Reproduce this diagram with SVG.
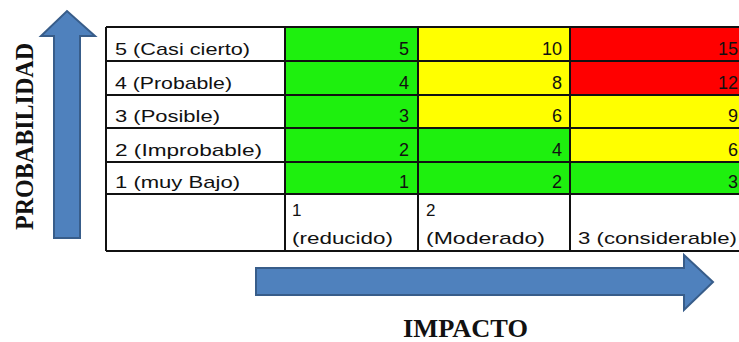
<svg xmlns="http://www.w3.org/2000/svg" width="739" height="342" viewBox="0 0 739 342">
<style>
.t{font-family:"Liberation Sans","Arial",sans-serif;font-size:17px;fill:#111}
.n{font-family:"Liberation Sans","Arial",sans-serif;font-size:18px;fill:#111;text-anchor:end}
.g{fill:#1ef00e}
.y{fill:#ffff00}
.r{fill:#ff0000}
.grid{stroke:#111;stroke-width:2;fill:none}
.arrow{fill:#4f81bd;stroke:#385d8a;stroke-width:2}
.big{font-family:"Liberation Serif","Times New Roman",serif;font-weight:bold;font-size:25px;fill:#111}
</style>
<rect width="739" height="342" fill="#fff"/>
<g id="arrow-prob">
<polygon class="arrow" points="54,238 80,238 80,36 95,36 67,11 41,36 54,36"/>
</g>
<g id="label-prob">
<text class="big" transform="translate(33,230) rotate(-90)" textLength="187" lengthAdjust="spacingAndGlyphs">PROBABILIDAD</text>
</g>
<g id="arrow-impact">
<polygon class="arrow" points="256,268 684,268 684,255 713,282 684,310 684,295 256,295"/>
</g>
<g id="label-impact">
<text class="big" x="403" y="337" textLength="125" lengthAdjust="spacingAndGlyphs">IMPACTO</text>
</g>
<g id="cells">
<rect class="g" x="285" y="28" width="133" height="33"/>
<rect class="y" x="418" y="28" width="152" height="33"/>
<rect class="r" x="570" y="28" width="169" height="33"/>
<rect class="g" x="285" y="61" width="133" height="34"/>
<rect class="y" x="418" y="61" width="152" height="34"/>
<rect class="r" x="570" y="61" width="169" height="34"/>
<rect class="g" x="285" y="95" width="133" height="33"/>
<rect class="y" x="418" y="95" width="152" height="33"/>
<rect class="y" x="570" y="95" width="169" height="33"/>
<rect class="g" x="285" y="128" width="133" height="34"/>
<rect class="g" x="418" y="128" width="152" height="34"/>
<rect class="y" x="570" y="128" width="169" height="34"/>
<rect class="g" x="285" y="162" width="133" height="32"/>
<rect class="g" x="418" y="162" width="152" height="32"/>
<rect class="g" x="570" y="162" width="169" height="32"/>
</g>
<g id="grid">
<path class="grid" d="M106,27 H740 M106,61 H740 M106,95 H740 M106,128 H740 M106,162 H740 M106,194 H740 M106,251 H740 M106,27 V251 M285,27 V251 M418,27 V251 M570,27 V251"/>
</g>
<g id="row5">
<text class="t" x="115" y="55" textLength="135" lengthAdjust="spacingAndGlyphs">5 (Casi cierto)</text>
<text class="n" x="409" y="55">5</text>
<text class="n" x="562" y="55">10</text>
<text class="n" x="738" y="55">15</text>
</g>
<g id="row4">
<text class="t" x="115" y="89" textLength="117" lengthAdjust="spacingAndGlyphs">4 (Probable)</text>
<text class="n" x="409" y="89">4</text>
<text class="n" x="562" y="89">8</text>
<text class="n" x="738" y="89">12</text>
</g>
<g id="row3">
<text class="t" x="115" y="122" textLength="105" lengthAdjust="spacingAndGlyphs">3 (Posible)</text>
<text class="n" x="409" y="122">3</text>
<text class="n" x="562" y="122">6</text>
<text class="n" x="738" y="122">9</text>
</g>
<g id="row2">
<text class="t" x="115" y="156" textLength="147" lengthAdjust="spacingAndGlyphs">2 (Improbable)</text>
<text class="n" x="409" y="156">2</text>
<text class="n" x="562" y="156">4</text>
<text class="n" x="738" y="156">6</text>
</g>
<g id="row1">
<text class="t" x="115" y="188" textLength="125" lengthAdjust="spacingAndGlyphs">1 (muy Bajo)</text>
<text class="n" x="409" y="188">1</text>
<text class="n" x="562" y="188">2</text>
<text class="n" x="738" y="188">3</text>
</g>
<g id="impact-labels">
<text class="t" x="292" y="216">1</text>
<text class="t" x="292" y="244" textLength="101" lengthAdjust="spacingAndGlyphs">(reducido)</text>
<text class="t" x="426" y="216">2</text>
<text class="t" x="426" y="244" textLength="119" lengthAdjust="spacingAndGlyphs">(Moderado)</text>
<text class="t" x="578" y="244" textLength="159" lengthAdjust="spacingAndGlyphs">3 (considerable)</text>
</g>
</svg>
